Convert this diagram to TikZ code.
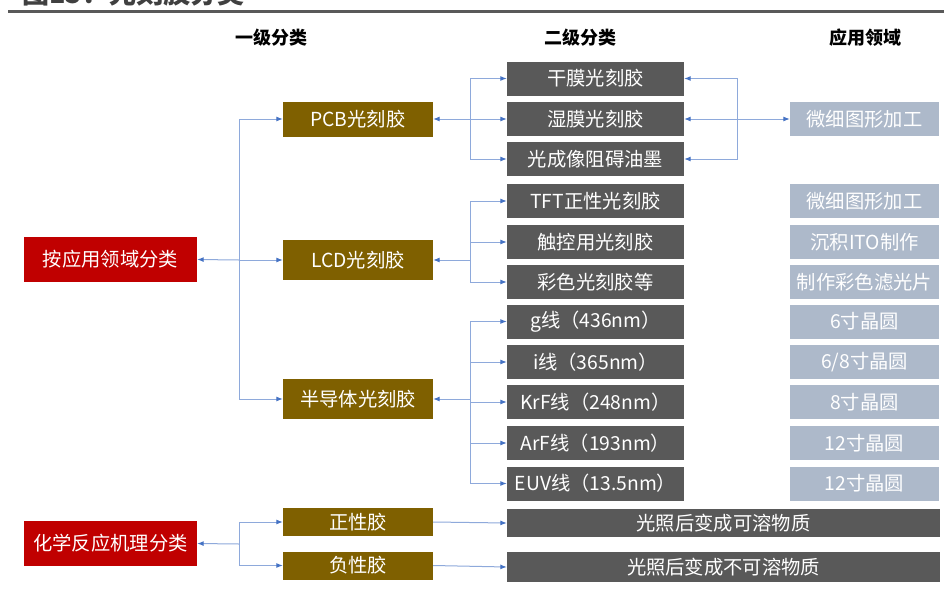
\documentclass[tikz,border=0pt]{standalone}
\usepackage{fontspec}
\setmainfont{Noto Sans CJK SC}
\usetikzlibrary{arrows.meta}
\definecolor{cred}{HTML}{C00000}
\definecolor{cbrown}{HTML}{7F6000}
\definecolor{cgray}{HTML}{595959}
\definecolor{clight}{HTML}{ADB9CA}
\definecolor{cline}{HTML}{8EA9DB}
\definecolor{ctip}{HTML}{4472C4}
\definecolor{ctitle}{HTML}{404040}
\tikzset{
  bx/.style={rectangle, inner sep=0pt, text=white, font=\fontsize{19.3}{21}\selectfont},
  redbox/.style={bx, fill=cred, minimum width=173pt, minimum height=45pt},
  brownbox/.style={bx, fill=cbrown, minimum width=150pt},
  graybox/.style={bx, fill=cgray, minimum width=177pt, minimum height=34pt},
  lightbox/.style={bx, fill=clight, minimum width=149pt, minimum height=34pt},
  widebox/.style={bx, fill=cgray, minimum width=433pt},
  hdr/.style={font=\bfseries\fontsize{18}{20}\selectfont, text=black, inner sep=0pt},
  conn/.style={draw=cline, line width=1pt, -{Latex[length=6.5pt,width=5pt,color=ctip]}}
}
\begin{document}
\begin{tikzpicture}[x=1pt,y=-1pt]
\clip (0,0) rectangle (944,589);
\fill[white] (0,0) rectangle (944,589);
% title
\node[anchor=base west, inner sep=0pt, text=ctitle, font=\bfseries\fontsize{27}{30}\selectfont] (ttl) at (22,4) {图15：光刻胶分类};
\draw[cgray, line width=2.5pt] (8,11.7) -- (944,11.7);
% headers
\node[hdr] (h1) at (271,38) {一级分类};
\node[hdr] (h2) at (580.5,37.5) {二级分类};
\node[hdr] (h3) at (865,37.5) {应用领域};
% left column
\node[redbox] (r1) at (110.5,259.5) {按应用领域分类};
\node[redbox] (r2) at (110.5,543.5) {化学反应机理分类};
% first level
\node[brownbox, minimum height=35pt] (b1) at (358,119) {PCB光刻胶};
\node[brownbox, minimum height=40pt] (b2) at (358,260) {LCD光刻胶};
\node[brownbox, minimum height=40pt] (b3) at (358,399) {半导体光刻胶};
\node[brownbox, minimum height=28pt] (b4) at (358,522) {正性胶};
\node[brownbox, minimum height=28pt] (b5) at (358,565.5) {负性胶};
% second level
\node[graybox] (g1) at (595.5,78.5) {干膜光刻胶};
\node[graybox] (g2) at (595.5,119) {湿膜光刻胶};
\node[graybox] (g3) at (595.5,159) {光成像阻碍油墨};
\node[graybox] (g4) at (595.5,201) {TFT正性光刻胶};
\node[graybox] (g5) at (595.5,242) {触控用光刻胶};
\node[graybox] (g6) at (595.5,282) {彩色光刻胶等};
\node[graybox] (g7) at (595.5,321.5) {g线（436nm）};
\node[graybox] (g8) at (595.5,362) {i线（365nm）};
\node[graybox] (g9) at (595.5,402) {KrF线（248nm）};
\node[graybox] (g10) at (595.5,443) {ArF线（193nm）};
\node[graybox] (g11) at (595.5,483.5) {EUV线（13.5nm）};
\node[widebox, minimum height=28pt] (w1) at (723.5,523) {光照后变成可溶物质};
\node[widebox, minimum height=30pt] (w2) at (723.5,567) {光照后变成不可溶物质};
% application
\node[lightbox] (a1) at (864.5,119) {微细图形加工};
\node[lightbox] (a2) at (864.5,201) {微细图形加工};
\node[lightbox] (a3) at (864.5,242) {沉积ITO制作};
\node[lightbox] (a4) at (864.5,282) {制作彩色滤光片};
\node[lightbox] (a5) at (864.5,321.5) {6寸晶圆};
\node[lightbox] (a6) at (864.5,362) {6/8寸晶圆};
\node[lightbox] (a7) at (864.5,402) {8寸晶圆};
\node[lightbox] (a8) at (864.5,443) {12寸晶圆};
\node[lightbox] (a9) at (864.5,483.5) {12寸晶圆};
% junctions
\coordinate (j1) at (239,260);
\coordinate (j2) at (470,119);
\coordinate (j3) at (737,119);
\coordinate (j4) at (470,260);
\coordinate (j5) at (470,399);
\coordinate (j6) at (239,544);
% connectors: application classification
\draw[conn] (j1) -- (r1.east);
\draw[conn] (j1) |- (b1.west);
\draw[conn] (j1) -- (b2.west);
\draw[conn] (j1) |- (b3.west);
% PCB
\draw[conn] (j2) -- (b1.east);
\draw[conn] (j2) |- (g1.west);
\draw[conn] (j2) -- (g2.west);
\draw[conn] (j2) |- (g3.west);
\draw[conn] (j3) |- (g1.east);
\draw[conn] (j3) -- (g2.east);
\draw[conn] (j3) |- (g3.east);
\draw[conn] (j3) -- (a1.west);
% LCD
\draw[conn] (j4) -- (b2.east);
\draw[conn] (j4) |- (g4.west);
\draw[conn] (j4) |- (g5.west);
\draw[conn] (j4) |- (g6.west);
% semiconductor
\draw[conn] (j5) -- (b3.east);
\draw[conn] (j5) |- (g7.west);
\draw[conn] (j5) |- (g8.west);
\draw[conn] (j5) |- (g9.west);
\draw[conn] (j5) |- (g10.west);
\draw[conn] (j5) |- (g11.west);
% chemistry classification
\draw[conn] (j6) -- (r2.east);
\draw[conn] (j6) |- (b4.west);
\draw[conn] (j6) |- (b5.west);
\draw[conn] (b4.east) -- (w1.west);
\draw[conn] (b5.east) -- (w2.west);
\end{tikzpicture}
\end{document}
